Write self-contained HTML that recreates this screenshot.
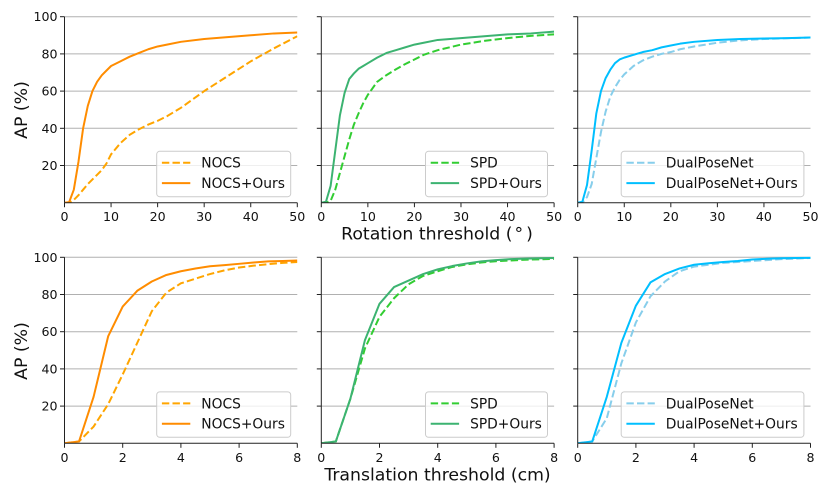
<!DOCTYPE html>
<html>
<head>
<meta charset="utf-8">
<title>AP threshold curves</title>
<style>
html,body{margin:0;padding:0;background:#fff;}
svg{display:block;font-family:"DejaVu Sans","Liberation Sans",sans-serif;filter:blur(0.35px);}
</style>
</head>
<body>
<svg id="figure" xmlns="http://www.w3.org/2000/svg" width="830" height="498" viewBox="0 0 830 498"></svg>
<script>
// ---- data ----
const rotationX = [0,1,2,3,4,5,6,7,8,9,10,12,14,16,18,20,22,25,30,35,40,45,50];
const translationX = [0,0.5,1,1.5,2,2.5,3,3.5,4,4.5,5,5.5,6,6.5,7,7.5,8];
const rotationTicks = [0,10,20,30,40,50];
const translationTicks = [0,2,4,6,8];
const apTicks = [20,40,60,80,100];

const rotNocs = [0,0,1.5,4,7,10,12.5,15,17.5,21,26,32,36.5,39.5,42,44,46.5,51,60,68,76,83,89.5];
const rotNocsOurs = [0,0.3,7,22,40,52,60,65,68.5,71,73.5,76,78.5,80.5,82.5,84,85,86.5,88,89,90,91,91.5];
const rotSpd = [0,0,1,7,16,25,34,42,48,53.5,58,65,68.6,71.7,74.5,77,79.5,82,85,87,88.5,89.7,90.5];
const rotSpdOurs = [0,0.5,9,28,47,59,66.5,69.5,72,73.5,75,78,80.5,82,83.5,85,86,87.5,88.5,89.5,90.5,91,92];
const rotDual = [0,0,3,10,24,38,49,57,62,66,69,73.5,76.5,78.5,80,81,82.5,84,86,87.3,88,88.4,88.8];
const rotDualOurs = [0,0.5,9.5,28,48,60,67,71.5,75,77,78,79.5,81,82,83.5,84.5,85.5,86.5,87.5,88,88.3,88.5,88.8];

const transNocs = [0,1,9,21,37,54,71,81,86,88.5,91,93,94.5,95.5,96.3,97,97.5];
const transNocsOurs = [0,1,25,57.5,73.5,82,87,90.5,92.5,94,95.2,95.8,96.5,97.2,97.8,98,98.3];
const transSpd = [0,1,24,51,68,78,85.5,90,92.5,94.8,96.2,97.2,97.9,98.3,98.7,98.9,99.2];
const transSpdOurs = [0,1,24,55.5,75,84,87.5,91,93.5,95.3,96.7,97.8,98.5,99,99.3,99.5,99.6];
const transDual = [0,1,13.5,43,65,79,87,92.5,95,96,97,97.5,98,98.5,99,99.3,99.6];
const transDualOurs = [0,1,25,54,74,86.5,91,94,96,96.8,97.5,98,98.8,99.2,99.5,99.6,99.7];

const baseNames = ['NOCS','SPD','DualPoseNet'];
const oursNames = ['NOCS+Ours','SPD+Ours','DualPoseNet+Ours'];
const rotationBase = [rotNocs,rotSpd,rotDual];
const rotationOurs = [rotNocsOurs,rotSpdOurs,rotDualOurs];
const translationBase = [transNocs,transSpd,transDual];
const translationOurs = [transNocsOurs,transSpdOurs,transDualOurs];

// ---- layout / style ----
const baseColors = ['#FFA500','#32CD32','#87CEEB'];
const oursColors = ['#FF8C00','#3CB371','#00BFFF'];
const colLeft = [64.5,321.3,577.7];
const axWidth = 232.8;
const rowTop = [16.7,257.3];
const axHeight = 186;
const legendWidth = [134,122,182.7];
const NS = 'http://www.w3.org/2000/svg';
const fig = document.getElementById('figure');

function make(parent, tag, props, text){
  const el = document.createElementNS(NS, tag);
  for (const k in props) el.setAttribute(k, props[k]);
  if (text !== undefined) el.textContent = text;
  parent.appendChild(el);
  return el;
}
function scaleLinear(d0,d1,r0,r1){ return v => r0 + (v-d0)/(d1-d0)*(r1-r0); }

function drawPanel(row, col){
  const left = colLeft[col], top = rowTop[row];
  const right = left+axWidth, bottom = top+axHeight;
  const xMax = row===0 ? 50 : 8;
  const xs = row===0 ? rotationX : translationX;
  const xTicks = row===0 ? rotationTicks : translationTicks;
  const baseVals = row===0 ? rotationBase[col] : translationBase[col];
  const oursVals = row===0 ? rotationOurs[col] : translationOurs[col];
  const sx = scaleLinear(0,xMax,left,right);
  const sy = scaleLinear(0,100,bottom,top);

  const g = make(fig,'g',{});
  
  

  const clipId = 'clip-'+row+'-'+col;
  const defs = make(g,'defs',{});
  const clip = make(defs,'clipPath',{id:clipId});
  make(clip,'rect',{x:left,y:top-1,width:axWidth,height:axHeight+1});

  apTicks.forEach(t => {
    const y = sy(t);
    const grid = make(g,'line',{x1:left,x2:right,y1:y,y2:y,stroke:'#b0b0b0','stroke-width':1});
    
    
    const tick = make(g,'line',{x1:left-4.5,x2:left,y1:y,y2:y,stroke:'#222','stroke-width':1});
    
    
    if (col===0){
      const lab = make(g,'text',{x:left-7,y:y+4.5,'text-anchor':'end','font-size':12.6,fill:'#111'},String(t));
      
      
    }
  });
  xTicks.forEach(t => {
    const x = sx(t);
    const tick = make(g,'line',{x1:x,x2:x,y1:bottom,y2:bottom+4.5,stroke:'#222','stroke-width':1});
    
    
    const lab = make(g,'text',{x:x,y:bottom+18.5,'text-anchor':'middle','font-size':12.6,fill:'#111'},String(t));
    
    
  });

  const pts = vals => vals.map((v,i) => sx(xs[i]).toFixed(2)+','+sy(v).toFixed(2)).join(' ');
  const baseLine = make(g,'polyline',{points:pts(baseVals),fill:'none',stroke:baseColors[col],'stroke-width':2,'stroke-dasharray':'7.4 3.2','clip-path':'url(#'+clipId+')'});
  
  
  const oursLine = make(g,'polyline',{points:pts(oursVals),fill:'none',stroke:oursColors[col],'stroke-width':2,'stroke-linejoin':'round','clip-path':'url(#'+clipId+')'});
  
  

  const spineL = make(g,'line',{x1:left,x2:left,y1:top,y2:bottom,stroke:'#222','stroke-width':1});
  
  
  const spineB = make(g,'line',{x1:left,x2:right,y1:bottom,y2:bottom,stroke:'#222','stroke-width':1});
  
  

  // legend
  const lw = legendWidth[col], lh = 45.4;
  const lx = right-6.6-lw, ly = bottom-6-lh;
  const lg = make(g,'g',{});
  
  
  const box = make(lg,'rect',{x:lx,y:ly,width:lw,height:lh,rx:3,fill:'#fff','fill-opacity':0.8,stroke:'#ccc','stroke-width':1});
  
  
  const h1 = make(lg,'line',{x1:lx+5.2,x2:lx+33.6,y1:ly+11.5,y2:ly+11.5,stroke:baseColors[col],'stroke-width':2,'stroke-dasharray':'7.4 3.2'});
  
  
  const t1 = make(lg,'text',{x:lx+44.6,y:ly+16.4,'font-size':13.8,fill:'#111'},baseNames[col]);
  
  
  const h2 = make(lg,'line',{x1:lx+5.2,x2:lx+33.6,y1:ly+31.8,y2:ly+31.8,stroke:oursColors[col],'stroke-width':2});
  
  
  const t2 = make(lg,'text',{x:lx+44.6,y:ly+36.8,'font-size':13.8,fill:'#111'},oursNames[col]);
  
  
}

for (let r=0;r<2;r++) for (let c=0;c<3;c++) drawPanel(r,c);

const yl1 = make(fig,'text',{transform:'translate(27,110) rotate(-90)','text-anchor':'middle','font-size':17.3,fill:'#111'},'AP (%)');


const yl2 = make(fig,'text',{transform:'translate(27,351) rotate(-90)','text-anchor':'middle','font-size':17.3,fill:'#111'},'AP (%)');


const xl1 = make(fig,'text',{x:437,y:239.5,'text-anchor':'middle','font-size':17.3,fill:'#111'},'Rotation threshold (');
make(xl1,'tspan',{dx:2},'°');
make(xl1,'tspan',{dx:3},')');


const xl2 = make(fig,'text',{x:437.5,y:480.5,'text-anchor':'middle','font-size':17.3,fill:'#111'},'Translation threshold (cm)');


</script>
</body>
</html>
